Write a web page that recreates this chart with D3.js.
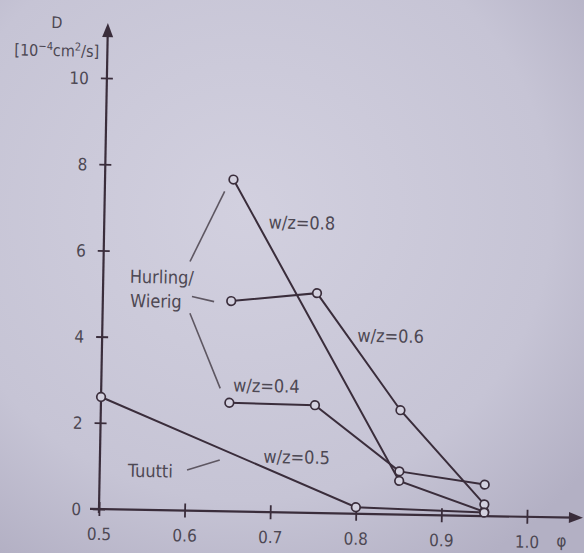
<!DOCTYPE html>
<html>
<head>
<meta charset="utf-8">
<script src="https://cdn.jsdelivr.net/npm/d3@7"></script>
<style>
  html, body { margin: 0; padding: 0; background: #c6c4d5; }
  svg { display: block; }
</style>
</head>
<body>
<script>
// ---- data ----
const xTicks = [0.5, 0.6, 0.7, 0.8, 0.9, 1.0];
const xTickLabels = ["0.5", "0.6", "0.7", "0.8", "0.9", "1.0"];
const yTicks = [0, 2, 4, 6, 8, 10];
const yTickLabels = ["0", "2", "4", "6", "8", "10"];

// Hurling/Wierig series
const phi_wz08 = [0.65, 0.85, 0.95];
const D_wz08   = [7.7, 0.78, 0.1];
const phi_wz06 = [0.65, 0.75, 0.85, 0.95];
const D_wz06   = [4.88, 5.1, 2.42, 0.27];
const phi_wz04 = [0.65, 0.75, 0.85, 0.95];
const D_wz04   = [2.52, 2.5, 1.0, 0.73];
// Tuutti series
const phi_wz05 = [0.5, 0.8, 0.95];
const D_wz05   = [2.6, 0.15, 0.08];

const seriesNames = ["w/z=0.8", "w/z=0.6", "w/z=0.4", "w/z=0.5"];

// annotation labels (data coordinates)
const labelText = ["w/z=0.8", "w/z=0.6", "w/z=0.4", "w/z=0.5", "Hurling/", "Wierig", "Tuutti"];
const labelPhi  = [0.692, 0.798, 0.654, 0.691, 0.531, 0.532, 0.533];
const labelD    = [6.58, 3.99, 2.78, 1.14, 5.26, 4.70, 0.76];
// leader lines (data coordinates)
const leaderPhi1 = [0.640, 0.604, 0.602, 0.602];
const leaderD1   = [7.42, 4.97, 4.58, 0.94];
const leaderPhi2 = [0.601, 0.630, 0.639, 0.640];
const leaderD2   = [5.78, 4.86, 2.85, 1.19];

// ---- layout ----
const W = 584, H = 553;
const ox = 99, oy = 509;          // origin of axes
const rot = 1.05;                 // slight tilt of the photographed figure

const svg = d3.select("body").append("svg").attr("width", W).attr("height", H);

const defs = svg.append("defs");
const grad = defs.append("radialGradient").attr("id", "bg")
  .attr("cx", "42%").attr("cy", "38%").attr("r", "75%");
grad.append("stop").attr("offset", "0%").attr("stop-color", "#d2d0df");
grad.append("stop").attr("offset", "70%").attr("stop-color", "#c6c4d5");
grad.append("stop").attr("offset", "100%").attr("stop-color", "#b3b0c4");
svg.append("rect").attr("width", W).attr("height", H).attr("fill", "url(#bg)");

const g = svg.append("g").attr("transform", `rotate(${rot},${ox},${oy})`);

const x = d3.scaleLinear().domain([0.5, 1.0]).range([ox, 527]);
const y = d3.scaleLinear().domain([0, 10]).range([oy, 78]);

const ink = "#3a2d3b";
const textInk = "#4d4853";
const font = "'DejaVu Sans Condensed', 'DejaVu Sans', sans-serif";

// ---- axes ----
const xAxis = g.append("g").attr("transform", `translate(0,${oy})`)
  .call(d3.axisBottom(x).tickValues(xTicks).tickFormat((d, i) => xTickLabels[i]).tickSize(7));
xAxis.select(".domain").remove();
xAxis.selectAll(".tick line").attr("y1", -7).attr("y2", 7).attr("stroke", ink).attr("stroke-width", 1.8);
xAxis.selectAll(".tick text").attr("y", 31).attr("dy", 0)
  .attr("font-family", font).attr("font-size", 17).attr("fill", textInk);

const yAxis = g.append("g").attr("transform", `translate(${ox},0)`)
  .call(d3.axisLeft(y).tickValues(yTicks).tickFormat((d, i) => yTickLabels[i]).tickSize(6));
yAxis.select(".domain").remove();
yAxis.selectAll(".tick line").attr("x1", -6).attr("x2", 6).attr("stroke", ink).attr("stroke-width", 1.8);
yAxis.selectAll(".tick text").attr("x", -18).attr("dy", "0.35em")
  .attr("font-family", font).attr("font-size", 17).attr("fill", textInk);

// axis lines with arrowheads
g.append("line").attr("x1", ox - 9).attr("y1", oy).attr("x2", 574).attr("y2", oy)
  .attr("stroke", ink).attr("stroke-width", 2.2);
g.append("path").attr("d", `M${ox + 484},${oy} L${ox + 470},${oy - 5.5} L${ox + 470},${oy + 5.5} Z`)
  .attr("fill", ink);
g.append("line").attr("x1", ox).attr("y1", oy + 4).attr("x2", ox).attr("y2", 34)
  .attr("stroke", ink).attr("stroke-width", 2.2);
g.append("path").attr("d", `M${ox},23 L${ox - 5.5},37 L${ox + 5.5},37 Z`).attr("fill", ink);

// axis titles
g.append("text").attr("x", 48).attr("y", 29).attr("text-anchor", "middle")
  .attr("font-family", font).attr("font-size", 16).attr("fill", textInk).text("D");
const unit = g.append("text").attr("x", 6).attr("y", 57)
  .attr("font-family", font).attr("font-size", 16).attr("fill", textInk);
unit.append("tspan").text("[10");
unit.append("tspan").attr("font-size", 11).attr("dy", -6).text("−4");
unit.append("tspan").attr("dy", 6).text("cm");
unit.append("tspan").attr("font-size", 11).attr("dy", -6).text("2");
unit.append("tspan").attr("dy", 6).text("/s]");

g.append("text").attr("x", 562).attr("y", 538).attr("text-anchor", "middle")
  .attr("font-family", font).attr("font-size", 17).attr("fill", textInk).text("φ");

// ---- series ----
const allSeries = [
  { name: seriesNames[0], phi: phi_wz08, D: D_wz08 },
  { name: seriesNames[1], phi: phi_wz06, D: D_wz06 },
  { name: seriesNames[2], phi: phi_wz04, D: D_wz04 },
  { name: seriesNames[3], phi: phi_wz05, D: D_wz05 },
];
const line = d3.line().x(d => x(d[0])).y(d => y(d[1]));

// leader lines
g.selectAll(".leader").data(leaderPhi1).enter().append("line")
  .attr("x1", (d, i) => x(leaderPhi1[i])).attr("y1", (d, i) => y(leaderD1[i]))
  .attr("x2", (d, i) => x(leaderPhi2[i])).attr("y2", (d, i) => y(leaderD2[i]))
  .attr("stroke", "#5e5762").attr("stroke-width", 1.6);

allSeries.forEach(s => {
  const pts = s.phi.map((p, i) => [p, s.D[i]]);
  g.append("path").attr("d", line(pts)).attr("fill", "none")
    .attr("stroke", ink).attr("stroke-width", 2);
});
allSeries.forEach(s => {
  const pts = s.phi.map((p, i) => [p, s.D[i]]);
  g.selectAll(null).data(pts).enter().append("circle")
    .attr("cx", d => x(d[0])).attr("cy", d => y(d[1])).attr("r", 4.3)
    .attr("fill", "#d3d1df").attr("stroke", ink).attr("stroke-width", 1.7);
});

// labels
g.selectAll(".lbl").data(labelText).enter().append("text")
  .attr("x", (d, i) => x(labelPhi[i])).attr("y", (d, i) => y(labelD[i]))
  .attr("font-family", font).attr("font-size", 18).attr("fill", textInk)
  .text(d => d);
</script>
</body>
</html>
